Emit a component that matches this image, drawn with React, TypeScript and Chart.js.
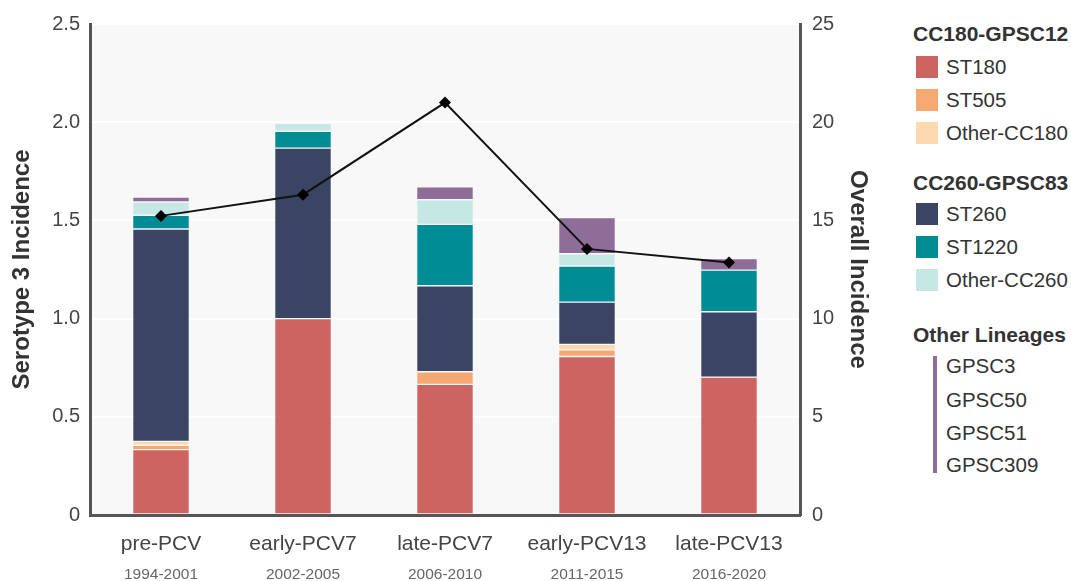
import React, { useEffect, useRef } from "react";
import { Chart, registerables } from "chart.js";

Chart.register(...registerables);

const categories = ["pre-PCV", "early-PCV7", "late-PCV7", "early-PCV13", "late-PCV13"];
const periods = ["1994-2001", "2002-2005", "2006-2010", "2011-2015", "2016-2020"];

const st180 = [0.333, 1.0, 0.665, 0.807, 0.702];
const st505 = [0.022, 0, 0.064, 0.034, 0];
const otherCC180 = [0.02, 0, 0, 0.028, 0];
const st260 = [1.081, 0.868, 0.438, 0.215, 0.333];
const st1220 = [0.07, 0.086, 0.313, 0.184, 0.212];
const otherCC260 = [0.068, 0.041, 0.125, 0.062, 0];
const otherLineages = [0.025, 0, 0.066, 0.185, 0.059];
const overallIncidence = [15.23, 16.31, 21.0, 13.55, 12.86];

const leftTicks = [0, 0.5, 1.0, 1.5, 2.0, 2.5];
const rightTicks = [0, 5, 10, 15, 20, 25];

const COLORS = {
  st180: "#CC6461",
  st505: "#F5A872",
  otherCC180: "#FDDAAE",
  st260: "#394562",
  st1220: "#008C95",
  otherCC260: "#C5E8E4",
  other: "#8E6D99",
};

const FONT = "'Liberation Sans', Arial, Helvetica, sans-serif";

const bgPlugin = {
  id: "plotBg",
  beforeDraw(chart: any) {
    const { ctx, chartArea } = chart;
    ctx.save();
    ctx.fillStyle = "#F8F8F8";
    ctx.fillRect(chartArea.left, chartArea.top, chartArea.right - chartArea.left, chartArea.bottom - chartArea.top);
    ctx.restore();
  },
};

export default function App() {
  const ref = useRef<HTMLCanvasElement>(null);

  useEffect(() => {
    if (!ref.current) return;
    const bar = (label: string, data: number[], color: string) => ({
      type: "bar" as const,
      label,
      data,
      backgroundColor: color,
      borderColor: "rgba(255,255,255,0.22)",
      borderWidth: 0.7,
      borderSkipped: false,
      barPercentage: 0.4,
      categoryPercentage: 1.0,
      xAxisID: "x",
      yAxisID: "y",
      order: 1,
    });
    const chart = new Chart(ref.current, {
      type: "bar",
      data: {
        labels: categories,
        datasets: [
          {
            type: "line" as const,
            label: "Overall Incidence",
            data: overallIncidence,
            borderColor: "#111111",
            backgroundColor: "#000000",
            borderWidth: 2,
            pointStyle: "rectRot",
            pointRadius: 6,
            pointBorderWidth: 0,
            tension: 0,
            xAxisID: "x",
            yAxisID: "y1",
            order: 0,
          } as any,
          bar("ST180", st180, COLORS.st180),
          bar("ST505", st505, COLORS.st505),
          bar("Other-CC180", otherCC180, COLORS.otherCC180),
          bar("ST260", st260, COLORS.st260),
          bar("ST1220", st1220, COLORS.st1220),
          bar("Other-CC260", otherCC260, COLORS.otherCC260),
          bar("Other Lineages", otherLineages, COLORS.other),
        ],
      },
      options: {
        animation: false,
        responsive: true,
        maintainAspectRatio: false,
        layout: { padding: { top: 22, left: 0, right: 0, bottom: 0 } },
        plugins: { legend: { display: false }, tooltip: { enabled: false } },
        scales: {
          x: {
            type: "category",
            position: "bottom",
            stacked: true,
            weight: 0,
            grid: { display: false, drawTicks: false },
            border: { display: true, color: "#555555", width: 3 },
            ticks: { color: "#444444", font: { family: FONT, size: 21 }, padding: 17 },
            afterFit: (s: any) => { s.height = 50; },
          },
          x2: {
            type: "category",
            position: "bottom",
            labels: periods,
            weight: 1,
            grid: { display: false, drawTicks: false },
            border: { display: false },
            ticks: { color: "#666666", font: { family: FONT, size: 15.5 }, padding: 0 },
            afterFit: (s: any) => { s.height = 16; },
          },
          y: {
            type: "linear",
            position: "left",
            stacked: true,
            min: 0,
            max: 2.5,
            afterBuildTicks: (s: any) => { s.ticks = leftTicks.map((v) => ({ value: v })); },
            grid: { color: "#FFFFFF", lineWidth: 2, drawTicks: false },
            border: { display: true, color: "#555555", width: 3 },
            ticks: {
              color: "#444444",
              font: { family: FONT, size: 20 },
              padding: 10,
              callback: (v: any) => (v === 0 ? "0" : Number(v).toFixed(1)),
            },
            title: {
              display: true,
              text: "Serotype 3 Incidence",
              color: "#333333",
              font: { family: FONT, size: 24, weight: "bold" },
              padding: { top: 8, bottom: 0 },
            },
            afterFit: (s: any) => { s.width = 90; },
          },
          y1: {
            type: "linear",
            position: "right",
            min: 0,
            max: 25,
            afterBuildTicks: (s: any) => { s.ticks = rightTicks.map((v) => ({ value: v })); },
            grid: { display: false, drawTicks: false },
            border: { display: true, color: "#555555", width: 3 },
            ticks: { color: "#444444", font: { family: FONT, size: 20 }, padding: 12 },
            title: {
              display: true,
              text: "Overall Incidence",
              color: "#333333",
              font: { family: FONT, size: 24, weight: "bold" },
              padding: { top: 8, bottom: 0 },
            },
            afterFit: (s: any) => { s.width = 80; },
          },
        },
      } as any,
      plugins: [bgPlugin],
    });
    return () => chart.destroy();
  }, []);

  const head: React.CSSProperties = {
    position: "absolute",
    left: 913,
    fontFamily: FONT,
    fontWeight: "bold",
    fontSize: 21,
    color: "#333",
    whiteSpace: "nowrap",
    lineHeight: "24px",
  };
  const item = (top: number, color: string, label: string) => (
    <div key={label} style={{ position: "absolute", left: 916, top, height: 22, display: "flex", alignItems: "center", whiteSpace: "nowrap" }}>
      <div style={{ width: 22, height: 22, background: color }} />
      <span style={{ marginLeft: 8, fontFamily: FONT, fontSize: 20.5, color: "#333" }}>{label}</span>
    </div>
  );
  const plain = (top: number, label: string) => (
    <div key={label} style={{ position: "absolute", left: 946, top, height: 22, lineHeight: "22px", fontFamily: FONT, fontSize: 20.5, color: "#333", whiteSpace: "nowrap" }}>
      {label}
    </div>
  );

  return (
    <div style={{ position: "fixed", left: 0, top: 0, width: 1071, height: 581, background: "#fff" }}>
      <div style={{ position: "absolute", left: 0, top: 0, width: 880, height: 581 }}>
        <canvas ref={ref} />
      </div>
      <div style={{ ...head, top: 22 }}>CC180-GPSC12</div>
      {item(56, COLORS.st180, "ST180")}
      {item(89, COLORS.st505, "ST505")}
      {item(122, COLORS.otherCC180, "Other-CC180")}
      <div style={{ ...head, top: 171 }}>CC260-GPSC83</div>
      {item(203, COLORS.st260, "ST260")}
      {item(236, COLORS.st1220, "ST1220")}
      {item(269, COLORS.otherCC260, "Other-CC260")}
      <div style={{ ...head, top: 323 }}>Other Lineages</div>
      <div style={{ position: "absolute", left: 933, top: 356, width: 4, height: 117, background: COLORS.other }} />
      {plain(355, "GPSC3")}
      {plain(389, "GPSC50")}
      {plain(422, "GPSC51")}
      {plain(454, "GPSC309")}
    </div>
  );
}
